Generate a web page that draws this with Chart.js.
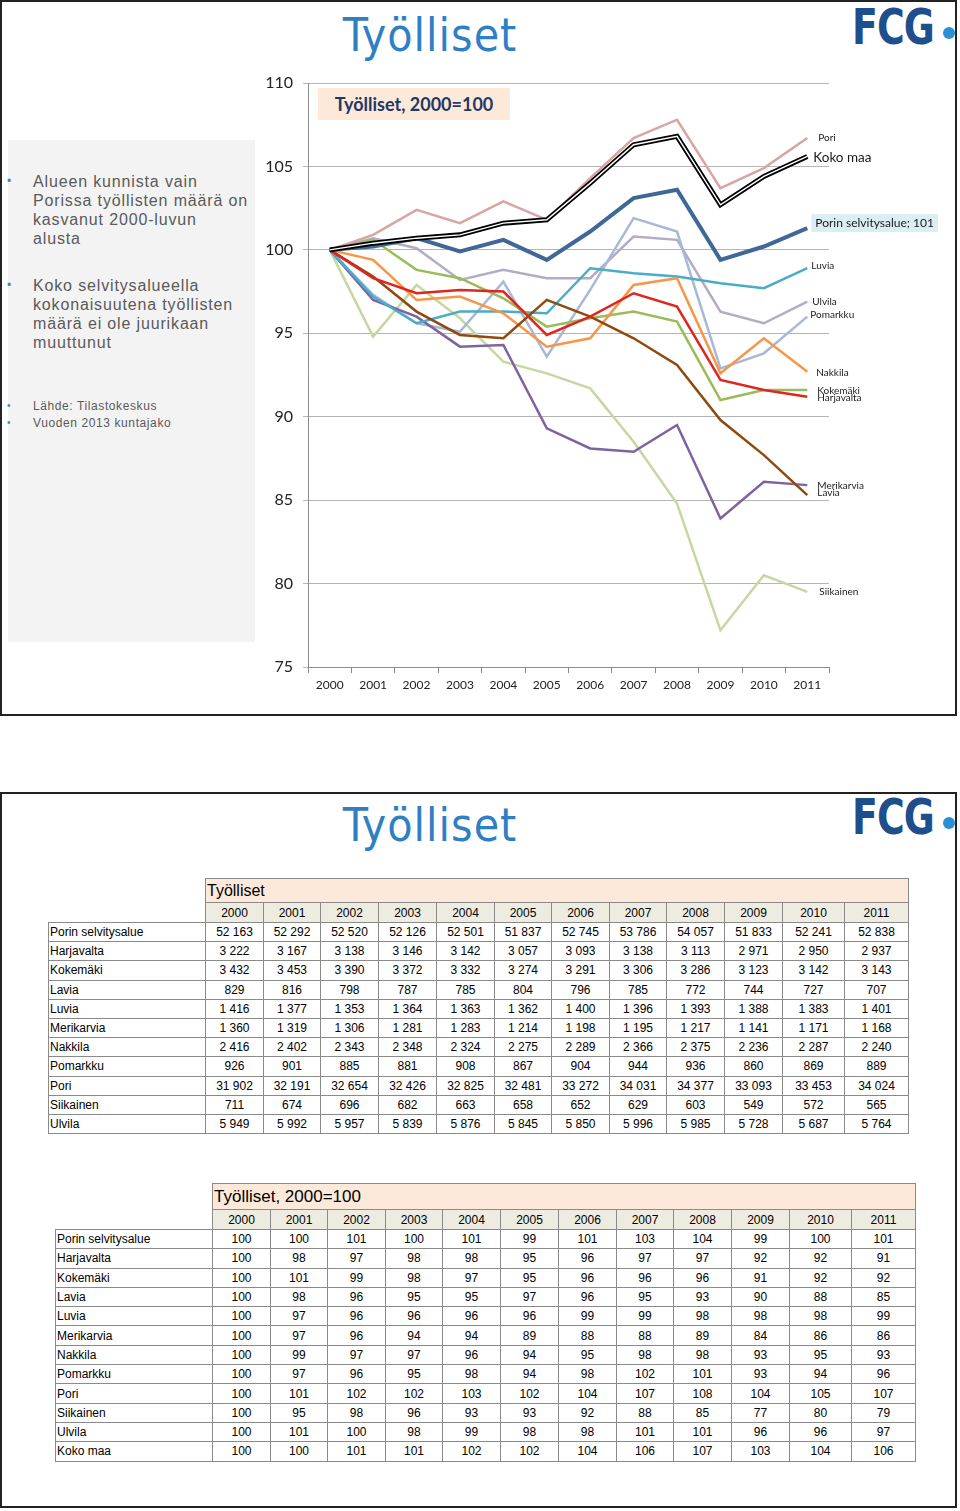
<!DOCTYPE html>
<html><head><meta charset="utf-8">
<script src="https://cdn.jsdelivr.net/npm/chart.js@4.4.0/dist/chart.umd.min.js"></script>
<style>
body{margin:0;width:960px;height:1511px;background:#fff;position:relative;font-family:"Liberation Sans",Arial,sans-serif;overflow:hidden;}
.frame{position:absolute;left:0;width:953px;height:712px;border:2px solid #222;}
.title{position:absolute;left:250px;width:360px;text-align:center;font-family:"Liberation Sans Narrow","DejaVu Sans Condensed",sans-serif;font-size:46px;color:#2f80c3;letter-spacing:1px;}
.logo{position:absolute;left:852px;font-family:"Liberation Sans Narrow","DejaVu Sans Condensed",sans-serif;font-weight:bold;font-size:50px;color:#1f4e8c;letter-spacing:-1px;line-height:50px;transform:scaleX(0.84);transform-origin:left top;}
.dot{position:absolute;width:12px;height:12px;border-radius:50%;background:#2a90d2;}
#panel{position:absolute;left:8px;top:140px;width:247px;height:502px;background:#f3f3f3;}
.bl{position:absolute;left:33px;font-size:16px;color:#5a5a5a;letter-spacing:0.85px;line-height:19px;}
.bu{position:absolute;left:7px;font-size:12px;color:#4f81bd;}
.src{position:absolute;left:33px;font-size:12px;color:#5a5a5a;letter-spacing:0.6px;}
#c{position:absolute;left:0;top:0;}
#ctitle{position:absolute;left:318px;top:88px;width:192px;height:32px;background:#fde9d9;font-family:Lato,"Open Sans",sans-serif;font-weight:bold;font-size:18px;color:#1f3864;line-height:32px;text-align:center;}
table{position:absolute;border-collapse:collapse;font-size:12px;table-layout:fixed;}
td{border:1px solid #8a8a8a;padding:0;text-align:center;white-space:nowrap;overflow:hidden;}
td.lab{text-align:left;padding-left:1px;}
td.blank{border:none;}
td.hd{background:#fde9d9;text-align:left;padding-left:1px;}
td.yr{background:#eeece1;}
</style>
</head><body>
<div class="frame" style="top:0"></div>
<div class="frame" style="top:792px"></div>

<div class="title" style="top:8px">Työlliset</div>
<div class="logo" style="top:2px">FCG</div><div class="dot" style="left:943px;top:27px"></div>

<div id="panel"></div>
<div class="bu" style="top:174px">•</div>
<div class="bl" style="top:172px">Alueen kunnista vain<br>Porissa työllisten määrä on<br>kasvanut 2000-luvun<br>alusta</div>
<div class="bu" style="top:278px">•</div>
<div class="bl" style="top:276px">Koko selvitysalueella<br>kokonaisuutena työllisten<br>määrä ei ole juurikaan<br>muuttunut</div>
<div class="bu" style="top:400px;font-size:10px">•</div>
<div class="src" style="top:399px">Lähde: Tilastokeskus</div>
<div class="bu" style="top:417px;font-size:10px">•</div>
<div class="src" style="top:416px">Vuoden 2013 kuntajako</div>

<canvas id="c" width="957" height="716"></canvas>
<div id="ctitle">Työlliset, 2000=100</div>

<div class="title" style="top:798px">Työlliset</div>
<div class="logo" style="top:792px">FCG</div><div class="dot" style="left:943px;top:817px"></div>

<table id="t1" style="left:48px;top:878px"></table>
<table id="t2" style="left:55px;top:1183px"></table>

<script>
// ---- data ----
const years = ['2000','2001','2002','2003','2004','2005','2006','2007','2008','2009','2010','2011'];
const municipalities = ['Porin selvitysalue','Harjavalta','Kokemäki','Lavia','Luvia','Merikarvia','Nakkila','Pomarkku','Pori','Siikainen','Ulvila'];

// chart series (index 2000=100)
const idxPorinSelvitysalue = [100, 100.2, 100.7, 99.9, 100.6, 99.4, 101.1, 103.1, 103.6, 99.4, 100.2, 101.3];
const idxHarjavalta = [100, 98.3, 97.4, 97.6, 97.5, 94.9, 96.0, 97.4, 96.6, 92.2, 91.6, 91.2];
const idxKokemaki = [100, 100.6, 98.8, 98.3, 97.1, 95.4, 95.9, 96.3, 95.7, 91.0, 91.6, 91.6];
const idxLavia = [100, 98.4, 96.3, 94.9, 94.7, 97.0, 96.0, 94.7, 93.1, 89.8, 87.7, 85.3];
const idxLuvia = [100, 97.2, 95.6, 96.3, 96.3, 96.2, 98.9, 98.6, 98.4, 98.0, 97.7, 98.9];
const idxMerikarvia = [100, 97.0, 96.0, 94.2, 94.3, 89.3, 88.1, 87.9, 89.5, 83.9, 86.1, 85.9];
const idxNakkila = [100, 99.4, 97.0, 97.2, 96.2, 94.2, 94.7, 97.9, 98.3, 92.6, 94.7, 92.7];
const idxPomarkku = [100, 97.3, 95.6, 95.1, 98.1, 93.6, 97.6, 101.9, 101.1, 92.9, 93.8, 96.0];
const idxPori = [100, 100.9, 102.4, 101.6, 102.9, 101.8, 104.3, 106.7, 107.8, 103.7, 104.9, 106.7];
const idxSiikainen = [100, 94.8, 97.9, 95.9, 93.3, 92.6, 91.7, 88.5, 84.8, 77.2, 80.5, 79.5];
const idxUlvila = [100, 100.7, 100.1, 98.2, 98.8, 98.3, 98.3, 100.8, 100.6, 96.3, 95.6, 96.9];
const idxKokoMaa = [100, 100.4, 100.7, 100.9, 101.6, 101.8, 104.0, 106.3, 106.8, 102.7, 104.4, 105.6];

const yTicks = [75, 80, 85, 90, 95, 100, 105, 110];

// table 1: Työlliset
const absPorinSelvitysalue = [52163,52292,52520,52126,52501,51837,52745,53786,54057,51833,52241,52838];
const absHarjavalta = [3222,3167,3138,3146,3142,3057,3093,3138,3113,2971,2950,2937];
const absKokemaki = [3432,3453,3390,3372,3332,3274,3291,3306,3286,3123,3142,3143];
const absLavia = [829,816,798,787,785,804,796,785,772,744,727,707];
const absLuvia = [1416,1377,1353,1364,1363,1362,1400,1396,1393,1388,1383,1401];
const absMerikarvia = [1360,1319,1306,1281,1283,1214,1198,1195,1217,1141,1171,1168];
const absNakkila = [2416,2402,2343,2348,2324,2275,2289,2366,2375,2236,2287,2240];
const absPomarkku = [926,901,885,881,908,867,904,944,936,860,869,889];
const absPori = [31902,32191,32654,32426,32825,32481,33272,34031,34377,33093,33453,34024];
const absSiikainen = [711,674,696,682,663,658,652,629,603,549,572,565];
const absUlvila = [5949,5992,5957,5839,5876,5845,5850,5996,5985,5728,5687,5764];

// table 2: Työlliset, 2000=100
const tPorinSelvitysalue = [100,100,101,100,101,99,101,103,104,99,100,101];
const tHarjavalta = [100,98,97,98,98,95,96,97,97,92,92,91];
const tKokemaki = [100,101,99,98,97,95,96,96,96,91,92,92];
const tLavia = [100,98,96,95,95,97,96,95,93,90,88,85];
const tLuvia = [100,97,96,96,96,96,99,99,98,98,98,99];
const tMerikarvia = [100,97,96,94,94,89,88,88,89,84,86,86];
const tNakkila = [100,99,97,97,96,94,95,98,98,93,95,93];
const tPomarkku = [100,97,96,95,98,94,98,102,101,93,94,96];
const tPori = [100,101,102,102,103,102,104,107,108,104,105,107];
const tSiikainen = [100,95,98,96,93,93,92,88,85,77,80,79];
const tUlvila = [100,101,100,98,99,98,98,101,101,96,96,97];
const tKokoMaa = [100,100,101,101,102,102,104,106,107,103,104,106];

// ---- tables ----
function fmt(n){return String(n).replace(/\B(?=(\d{3})+(?!\d))/g,' ');}
function buildTable(el, title, widths, rows, hdH, yrH, rowH, hdFont){
  let h = '<colgroup>' + widths.map(w=>'<col style="width:'+w+'px">').join('') + '</colgroup>';
  h += '<tr style="height:'+hdH+'px"><td class="blank"></td><td class="hd" colspan="12" style="font-size:'+hdFont+'px">'+title+'</td></tr>';
  h += '<tr style="height:'+yrH+'px"><td class="blank"></td>' + years.map(y=>'<td class="yr">'+y+'</td>').join('') + '</tr>';
  rows.forEach(r=>{
    h += '<tr style="height:'+rowH+'px"><td class="lab">'+r[0]+'</td>' + r[1].map(v=>'<td>'+fmt(v)+'</td>').join('') + '</tr>';
  });
  el.innerHTML = h;
}
buildTable(document.getElementById('t1'),'Työlliset',
  [157,58,57,58,58,58,57,58,57,58,58,62,64],
  [[municipalities[0],absPorinSelvitysalue],[municipalities[1],absHarjavalta],[municipalities[2],absKokemaki],
   [municipalities[3],absLavia],[municipalities[4],absLuvia],[municipalities[5],absMerikarvia],[municipalities[6],absNakkila],
   [municipalities[7],absPomarkku],[municipalities[8],absPori],[municipalities[9],absSiikainen],[municipalities[10],absUlvila]],
  24,20,19.2,16);
buildTable(document.getElementById('t2'),'Työlliset, 2000=100',
  [157,58,57,58,57,58,58,58,57,58,58,62,64],
  [[municipalities[0],tPorinSelvitysalue],[municipalities[1],tHarjavalta],[municipalities[2],tKokemaki],
   [municipalities[3],tLavia],[municipalities[4],tLuvia],[municipalities[5],tMerikarvia],[municipalities[6],tNakkila],
   [municipalities[7],tPomarkku],[municipalities[8],tPori],[municipalities[9],tSiikainen],[municipalities[10],tUlvila],['Koko maa',tKokoMaa]],
  26,20,19.3,17);

// ---- chart ----
const ds = (label, data, color, width) => ({label, data, borderColor: color, borderWidth: width, pointRadius: 0, tension: 0, fill: false});
const datasets = [
  ds('Koko maa (inner)', idxKokoMaa, '#ffffff', 1.4),
  ds('Koko maa', idxKokoMaa, '#000000', 5),
  ds('Porin selvitysalue', idxPorinSelvitysalue, '#3f6797', 4),
  ds('Pori', idxPori, '#d6a5a4', 2.5),
  ds('Harjavalta', idxHarjavalta, '#e0251f', 2.5),
  ds('Lavia', idxLavia, '#8e4a10', 2.5),
  ds('Nakkila', idxNakkila, '#f79646', 2.5),
  ds('Kokemäki', idxKokemaki, '#9bbb59', 2.5),
  ds('Luvia', idxLuvia, '#4bacc6', 2.5),
  ds('Merikarvia', idxMerikarvia, '#7d63a0', 2.5),
  ds('Pomarkku', idxPomarkku, '#a7b8d8', 2.5),
  ds('Ulvila', idxUlvila, '#b4abc7', 2.5),
  ds('Siikainen', idxSiikainen, '#c5d89f', 2.5)
];
const endLabels = [
  {ds:'Pori', text:'Pori', dx:11, dy:0, size:10},
  {ds:'Koko maa', text:'Koko maa', dx:6, dy:1, size:13.5},
  {ds:'Porin selvitysalue', text:'Porin selvitysalue; 101', dx:8, dy:-5, size:12, box:'#daeef3'},
  {ds:'Luvia', text:'Luvia', dx:4, dy:-2, size:10},
  {ds:'Ulvila', text:'Ulvila', dx:5, dy:0, size:10},
  {ds:'Pomarkku', text:'Pomarkku', dx:3, dy:-2, size:10},
  {ds:'Nakkila', text:'Nakkila', dx:9, dy:1, size:10},
  {ds:'Kokemäki', text:'Kokemäki', dx:10, dy:1, size:10},
  {ds:'Harjavalta', text:'Harjavalta', dx:10, dy:1, size:10},
  {ds:'Merikarvia', text:'Merikarvia', dx:10, dy:1, size:10},
  {ds:'Lavia', text:'Lavia', dx:10, dy:-2, size:10},
  {ds:'Siikainen', text:'Siikainen', dx:12, dy:0, size:10}
];
const labelPlugin = {
  id:'endLabels',
  afterDatasetsDraw(chart){
    const ctx = chart.ctx;
    ctx.save();
    endLabels.forEach(l=>{
      const i = chart.data.datasets.findIndex(d=>d.label===l.ds);
      const meta = chart.getDatasetMeta(i);
      const p = meta.data[meta.data.length-1];
      const x = p.x + l.dx, y = p.y + l.dy;
      ctx.font = l.size+'px Lato, "Open Sans", sans-serif';
      ctx.textBaseline = 'middle';
      ctx.textAlign = 'left';
      if (l.box){
        const w = ctx.measureText(l.text).width;
        ctx.fillStyle = l.box;
        ctx.fillRect(x-4, y-9, w+8, 18);
      }
      ctx.fillStyle = '#1a1a1a';
      ctx.fillText(l.text, x, y);
    });
    ctx.restore();
  }
};
new Chart(document.getElementById('c'), {
  type:'line',
  data:{labels: years, datasets},
  options:{
    responsive:false, animation:false, events:[],
    layout:{padding:{left:248, right:128, top:83, bottom:19}},
    plugins:{legend:{display:false}, tooltip:{enabled:false}},
    scales:{
      x:{
        offset:true,
        grid:{display:true, drawOnChartArea:false, drawTicks:true, tickLength:6, offset:true, color:'#8c8c8c'},
        border:{display:true, color:'#8c8c8c'},
        ticks:{font:{family:'Lato, "Open Sans", sans-serif', size:12}, color:'#222', padding:5, maxRotation:0, autoSkip:false},
        afterFit(s){s.height = 30;}
      },
      y:{
        min:75, max:110,
        afterBuildTicks(s){s.ticks = yTicks.map(v=>({value:v}));},
        grid:{color:'#b5b5b5', tickLength:5, drawTicks:true},
        border:{display:true, color:'#8c8c8c'},
        ticks:{font:{family:'Lato, "Open Sans", sans-serif', size:16}, color:'#222', padding:10},
        afterFit(s){s.width = 60;}
      }
    }
  },
  plugins:[labelPlugin]
});
</script>
</body></html>
